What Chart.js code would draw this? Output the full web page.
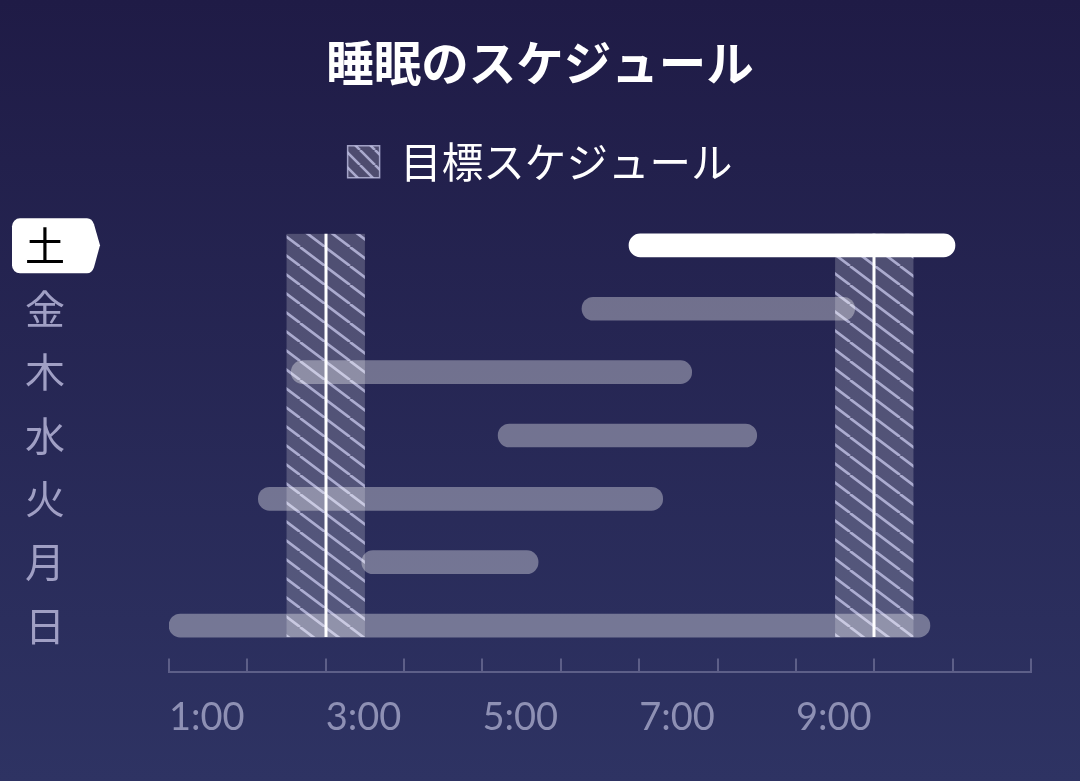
<!DOCTYPE html>
<html lang="ja">
<head>
<meta charset="utf-8">
<title>睡眠のスケジュール</title>
<script src="https://cdn.jsdelivr.net/npm/chart.js@4.4.0/dist/chart.umd.min.js"></script>
<style>
  html, body { margin: 0; padding: 0; }
  body { width: 1080px; height: 781px; overflow: hidden; background: linear-gradient(#1f1b46, #2e3363); }
  #wrap { position: relative; width: 1080px; height: 781px; }
</style>
</head>
<body>
<div id="wrap"><canvas id="sleepChart"></canvas></div>
<script>
// データ (下から上へ: 日 → 土)
const days = ['日', '月', '火', '水', '木', '金', '土'];
const sleepStart = [1.0, 3.46, 2.14, 5.2, 2.56, 6.27, 6.87];
const sleepEnd   = [10.71, 5.71, 7.3, 8.5, 7.67, 9.75, 11.03];
const highlightDay = '土';

// 目標スケジュール (就寝・起床の時間帯)
const targetFrom = [2.5, 9.5];
const targetTo   = [3.5, 10.5];
const targetMark = [3, 10];

// X軸
const hourTicks = [1, 2, 3, 4, 5, 6, 7, 8, 9, 10, 11, 12];
const labeledHours = [1, 3, 5, 7, 9];
const tickLabels = ['1:00', '3:00', '5:00', '7:00', '9:00'];

const BAR_H = 23;
const AXIS_COLOR = '#5d5f88';

Chart.defaults.font.family = "'Noto Sans CJK JP', sans-serif";

// 斜線パターン
function makeHatch(w, h) {
    const tile = document.createElement('canvas');
    tile.width = w;
    tile.height = h;
    const t = tile.getContext('2d');
    t.fillStyle = 'rgba(255,255,255,0.2)';
    t.fillRect(0, 0, w, h);
    t.strokeStyle = 'rgba(215,215,250,0.68)';
    t.lineWidth = 2.6;
    t.beginPath();
    [-w, 0, w].forEach(o => { t.moveTo(o, 0); t.lineTo(o + w, h); });
    t.stroke();
    return t.createPattern(tile, 'repeat');
}
const hatch = makeHatch(25, 19);
const legendHatch = makeHatch(15, 15);

// 目標帯と選択中の曜日タグ
const schedulePlugin = {
    id: 'schedule',
    beforeDraw(chart) {
        const { ctx, scales: { y } } = chart;
        const cy = y.getPixelForValue(days.indexOf(highlightDay));
        const top = cy - 27, bot = cy + 28, l = 12, r = 89, tip = 100, rad = 8;
        ctx.save();
        ctx.fillStyle = '#ffffff';
        ctx.beginPath();
        ctx.moveTo(l + rad, top);
        ctx.lineTo(r - 2, top);
        ctx.quadraticCurveTo(r + 3, top, r + 5, top + 6);
        ctx.lineTo(tip, cy);
        ctx.lineTo(r + 5, bot - 6);
        ctx.quadraticCurveTo(r + 3, bot, r - 2, bot);
        ctx.lineTo(l + rad, bot);
        ctx.arcTo(l, bot, l, bot - rad, rad);
        ctx.lineTo(l, top + rad);
        ctx.arcTo(l, top, l + rad, top, rad);
        ctx.closePath();
        ctx.fill();
        ctx.restore();
    },
    beforeDatasetsDraw(chart) {
        const { ctx, scales: { x, y } } = chart;
        const yTop = y.getPixelForValue(days.length - 1) - BAR_H / 2;
        const yBot = y.getPixelForValue(0) + BAR_H / 2;
        ctx.save();
        targetFrom.forEach((f, i) => {
            const x0 = x.getPixelForValue(f);
            const x1 = x.getPixelForValue(targetTo[i]);
            ctx.fillStyle = hatch;
            ctx.fillRect(x0, yTop, x1 - x0, yBot - yTop);
        });
        ctx.strokeStyle = '#ffffff';
        ctx.lineWidth = 3;
        targetMark.forEach(m => {
            const px = Math.round(x.getPixelForValue(m));
            ctx.beginPath();
            ctx.moveTo(px, yTop);
            ctx.lineTo(px, yBot);
            ctx.stroke();
        });
        ctx.restore();
    }
};

new Chart(document.getElementById('sleepChart'), {
    type: 'bar',
    data: {
        datasets: [
            {
                label: '目標スケジュール',
                data: [],
                backgroundColor: hatch,
                grouped: false
            },
            {
                label: '睡眠',
                data: days.map((d, i) => ({ x: [sleepStart[i], sleepEnd[i]], y: i })),
                backgroundColor: days.map(d => d === highlightDay ? '#ffffff' : 'rgba(255,255,255,0.35)'),
                borderRadius: BAR_H / 2,
                borderSkipped: false,
                barThickness: BAR_H,
                grouped: false
            }
        ]
    },
    options: {
        indexAxis: 'y',
        responsive: true,
        maintainAspectRatio: false,
        animation: false,
        layout: { padding: { left: 0, right: 0, top: 0, bottom: 3 } },
        scales: {
            x: {
                type: 'linear',
                offset: false,
                min: 1, max: 12,
                afterBuildTicks: s => { s.ticks = hourTicks.map(v => ({ value: v })); },
                ticks: {
                    autoSkip: false,
                    maxRotation: 0,
                    align: 'start',
                    padding: 37,
                    color: '#8e90b4',
                    font: { family: 'Lato', size: 38 },
                    callback: v => {
                        const k = labeledHours.indexOf(v);
                        return k >= 0 ? tickLabels[k] : '';
                    }
                },
                grid: { drawOnChartArea: false, drawTicks: true, tickLength: -14, color: AXIS_COLOR, lineWidth: 2 },
                border: { display: true, color: AXIS_COLOR, width: 2 }
            },
            y: {
                type: 'linear',
                offset: false,
                min: -0.739, max: 6.834,
                afterBuildTicks: s => { s.ticks = days.map((d, i) => ({ value: i })); },
                afterFit: s => { s.width = 169; },
                ticks: {
                    autoSkip: false,
                    crossAlign: 'center',
                    padding: 0,
                    font: { size: 40 },
                    color: c => days[c.tick.value] === highlightDay ? '#000000' : '#a09fc4',
                    callback: v => days[v]
                },
                grid: { display: false, drawTicks: true, tickLength: 104 },
                border: { display: false }
            },
            // 右側の余白用 (表示なし)
            yRight: {
                type: 'linear',
                position: 'right',
                afterFit: s => { s.width = 49; },
                ticks: { display: false },
                grid: { display: false },
                border: { display: false }
            }
        },
        plugins: {
            title: {
                display: true,
                text: '睡眠のスケジュール',
                color: '#ffffff',
                font: { size: 47.5, weight: 'bold' },
                padding: { top: 34, bottom: 40 }
            },
            legend: {
                display: true,
                labels: {
                    color: '#ffffff',
                    font: { size: 41.5 },
                    boxWidth: 32,
                    boxHeight: 32,
                    padding: 10,
                    useBorderRadius: true,
                    borderRadius: 3,
                    generateLabels: () => [{
                        text: '目標スケジュール',
                        fillStyle: legendHatch,
                        strokeStyle: 'rgba(200,200,235,0.75)',
                        lineWidth: 1.5,
                        fontColor: '#ffffff',
                        datasetIndex: 0,
                        hidden: false
                    }]
                },
                onClick: () => {}
            },
            tooltip: { enabled: false }
        }
    },
    plugins: [schedulePlugin]
});
</script>
</body>
</html>
